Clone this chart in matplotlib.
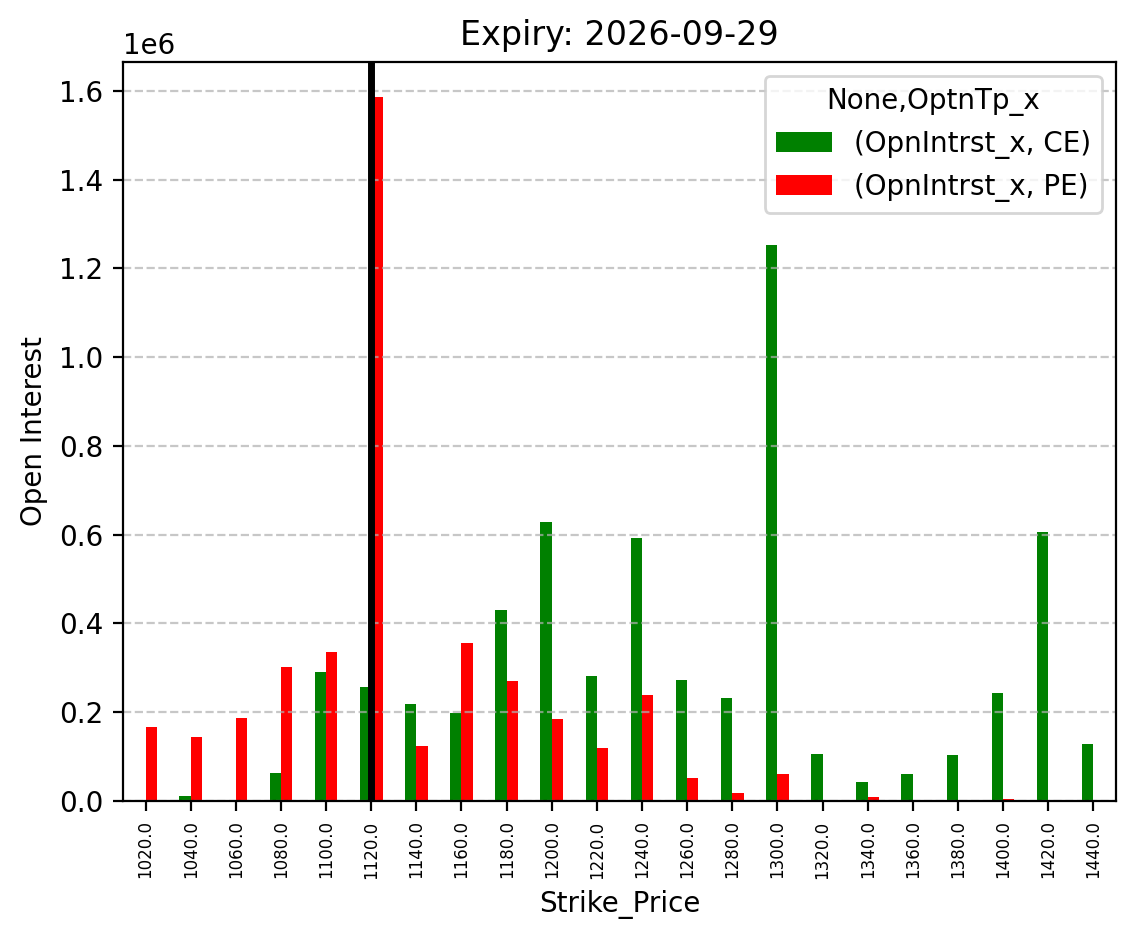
import numpy as np
import pandas as pd
import matplotlib
matplotlib.use('Agg')
import matplotlib.pyplot as plt

strikes = [1020.0, 1040.0, 1060.0, 1080.0, 1100.0, 1120.0, 1140.0, 1160.0,
           1180.0, 1200.0, 1220.0, 1240.0, 1260.0, 1280.0, 1300.0, 1320.0,
           1340.0, 1360.0, 1380.0, 1400.0, 1420.0, 1440.0]
ce_oi = [0, 11000, 0, 63000, 291000, 257000, 219000, 198000,
         430000, 629000, 282000, 593000, 273000, 232000, 1253000, 106000,
         43000, 61000, 104000, 243000, 606000, 128000]
pe_oi = [167000, 144000, 187000, 302000, 336000, 1586000, 124000, 356000,
         270000, 185000, 119000, 239000, 52000, 18000, 61000, 0,
         9000, 0, 0, 4000, 0, 0]
spot_idx = 5  # 1120 strike
expiry = '2026-09-29'

cols = pd.MultiIndex.from_tuples([('OpnIntrst_x', 'CE'), ('OpnIntrst_x', 'PE')],
                                 names=[None, 'OptnTp_x'])
df = pd.DataFrame(np.column_stack([ce_oi, pe_oi]), columns=cols,
                  index=pd.Index(strikes, name='Strike_Price'))

fig, ax = plt.subplots(figsize=(5.67, 4.695), dpi=200)
df.plot(kind='bar', color=['green', 'red'], ax=ax)
ax.axvline(spot_idx, color='black', linewidth=2.5)
ax.set_title('Expiry: ' + expiry)
ax.set_ylabel('Open Interest')
ax.tick_params(axis='x', labelsize=6)
ax.grid(axis='y', linestyle='--', alpha=0.7)
plt.subplots_adjust(left=0.1085, right=0.984, top=0.934, bottom=0.147)
plt.savefig('out.png', dpi=200)
